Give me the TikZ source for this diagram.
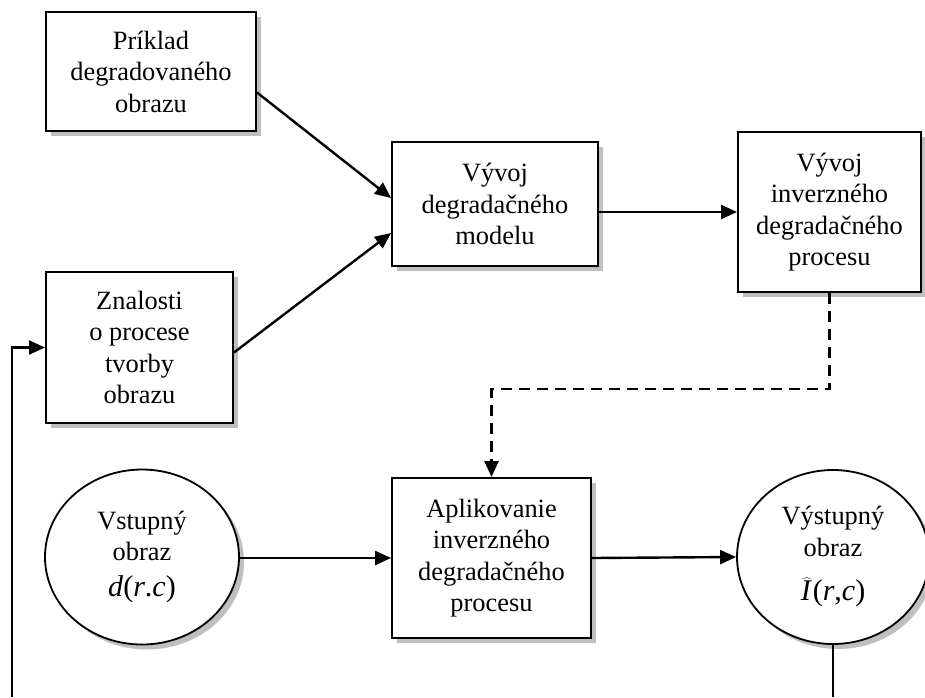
\documentclass[tikz,border=0pt]{standalone}
\usepackage{fontspec}
\setmainfont{Liberation Serif}
\usetikzlibrary{arrows.meta,shadows,shapes.geometric}
\newcommand{\txtsize}{\fontsize{26.4}{31.5}\selectfont}
\newcommand{\mathsize}{\fontsize{30}{34}\selectfont}

\begin{document}
\begin{tikzpicture}[x=1pt,y=-1pt,
    every node/.style={font=\txtsize, align=center},
    shade/.style={drop shadow={shadow xshift=5pt, shadow yshift=-5pt, fill=gray!50, opacity=1}},
    box/.style={draw, line width=2pt, fill=white, rectangle, inner sep=0pt, shade},
    bubble/.style={draw, line width=1.8pt, fill=white, ellipse, inner sep=0pt, shade},
    link/.style={line width=2.4pt, -{Triangle[length=16pt,width=14pt]}},
    dashlink/.style={link, line width=2.5pt, dash pattern=on 11pt off 7pt}]
    \useasboundingbox (0,0) rectangle (925,697);

    \node[box, minimum width=210pt, minimum height=119pt] (prik) at (151,71.5) {Príklad\\degradovaného\\obrazu};
    \node[box, minimum width=206pt, minimum height=124pt] (vyvoj) at (495,204) {Vývoj\\degradačného\\modelu};
    \node[box, minimum width=183pt, minimum height=160pt] (inv) at (829.5,212) {Vývoj\\inverzného\\degradačného\\procesu};
    \node[box, minimum width=187pt, minimum height=151pt] (znal) at (139.5,347.5) {Znalosti\\o procese\\tvorby\\obrazu};
    \node[box, minimum width=199pt, minimum height=160pt] (apl) at (491.5,558) {Aplikovanie\\inverzného\\degradačného\\procesu};
    \node[bubble, minimum width=194pt, minimum height=175pt] (vstup) at (142,557) {Vstupný\\obraz\\[4pt]{\mathsize\textit{d}(\textit{r}.\textit{c})}};
    \node[bubble, minimum width=192pt, minimum height=174pt] (vystup) at (833,557) {Výstupný\\obraz\\[13pt]{\mathsize$\widehat{\textit{I}\kern2pt}$(\textit{r},\textit{c})}};

    \coordinate (botR) at (833,697);
    \coordinate (botL) at (12,697);

    \draw[link] ([yshift=-21pt]prik.east) -- ([yshift=6pt]vyvoj.west);
    \draw[link] ([yshift=-5pt]znal.east) -- ([yshift=-29pt]vyvoj.west);
    \draw[link] (vyvoj.east |- inv.west) -- (inv.west);
    \draw[dashlink] (inv.south) -- ++(0,96) -| (apl.north);
    \draw[link] (vstup.east |- apl.west) -- (apl.west);
    \draw[link] (apl.east) -- (vystup.west);
    \draw[line width=2.2pt] (vystup.south) -- (botR);
    \draw[link] (botL) |- (znal.west);
\end{tikzpicture}
\end{document}
